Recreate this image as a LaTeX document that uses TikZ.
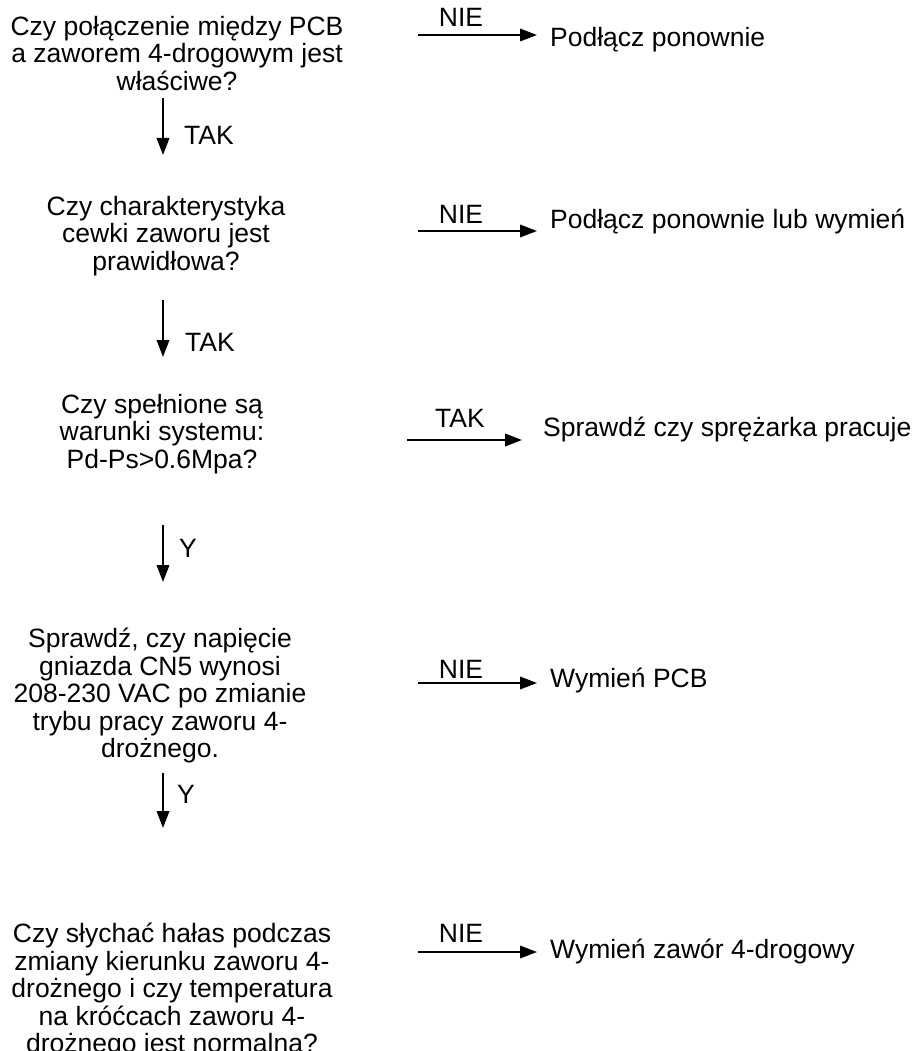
\documentclass[tikz,border=0pt]{standalone}
\usepackage{fontspec}
\setmainfont{Liberation Sans}
\usetikzlibrary{arrows.meta}
\tikzset{
  x=1pt, y=-1pt,
  txt/.style={inner sep=0pt, font=\fontsize{26.5}{27.6}\selectfont},
  question/.style={txt, align=center, anchor=north},
  answer/.style={txt, anchor=base west},
  lbl/.style={txt},
  arr/.style={line width=2pt, -{Triangle[length=17pt,width=12.5pt]}},
}
\begin{document}
\begin{tikzpicture}
\useasboundingbox (0,0) rectangle (917,1051);

% questions (left column)
\node[question] (q1) at (177,15.7) {Czy połączenie między PCB\\a zaworem 4-drogowym jest\\właściwe?};
\node[question] (q2) at (166,195.7) {Czy charakterystyka\\cewki zaworu jest\\prawidłowa?};
\node[question] (q3) at (162,393.7) {Czy spełnione są\\warunki systemu:\\Pd-Ps>0.6Mpa?};
\node[question] (q4) at (160,627.7) {Sprawdź, czy napięcie\\gniazda CN5 wynosi\\208-230 VAC po zmianie\\trybu pracy zaworu 4-\\drożnego.};
\node[question] (q5) at (172,922.7) {Czy słychać hałas podczas\\zmiany kierunku zaworu 4-\\drożnego i czy temperatura\\na króćcach zaworu 4-\\drożnego jest normalna?};

% actions (right column)
\node[answer] (r1) at (550,47) {Podłącz ponownie};
\node[answer] (r2) at (550,228) {Podłącz ponownie lub wymień};
\node[answer] (r3) at (543,436) {Sprawdź czy sprężarka pracuje};
\node[answer] (r4) at (550,687) {Wymień PCB};
\node[answer] (r5) at (550,958) {Wymień zawór 4-drogowy};

% arrow end points
\coordinate (v1s) at (163,98);  \coordinate (v1e) at (163,155);
\coordinate (v2s) at (163,300); \coordinate (v2e) at (163,357);
\coordinate (v3s) at (163,525); \coordinate (v3e) at (163,582);
\coordinate (v4s) at (163,773); \coordinate (v4e) at (163,828);
\coordinate (h1) at (418,35);
\coordinate (h2) at (418,231);
\coordinate (h3) at (407,440);
\coordinate (h4) at (418,683);
\coordinate (h5) at (418,952);

% downward flow
\draw[arr] (v1s) -- (v1e);
\draw[arr] (v2s) -- (v2e);
\draw[arr] (v3s) -- (v3e);
\draw[arr] (v4s) -- (v4e);
\node[lbl, anchor=base west] (t1) at (184,145) {TAK};
\node[lbl, anchor=base west] (t2) at (185,351) {TAK};
\node[lbl, anchor=base west] (t3) at (179,557) {Y};
\node[lbl, anchor=base west] (t4) at (177,803) {Y};

% side branches
\draw[arr, shorten >=13pt] (h1) -- (h1 -| r1.west);
\draw[arr, shorten >=13pt] (h2) -- (h2 -| r2.west);
\draw[arr, shorten >=21pt] (h3) -- (h3 -| r3.west);
\draw[arr, shorten >=13pt] (h4) -- (h4 -| r4.west);
\draw[arr, shorten >=13pt] (h5) -- (h5 -| r5.west);
\node[lbl, anchor=base] (n1) at (461,27) {NIE};
\node[lbl, anchor=base] (n2) at (461,223) {NIE};
\node[lbl, anchor=base] (n3) at (460,427) {TAK};
\node[lbl, anchor=base] (n4) at (461,678) {NIE};
\node[lbl, anchor=base] (n5) at (461,942) {NIE};
\end{tikzpicture}
\end{document}
